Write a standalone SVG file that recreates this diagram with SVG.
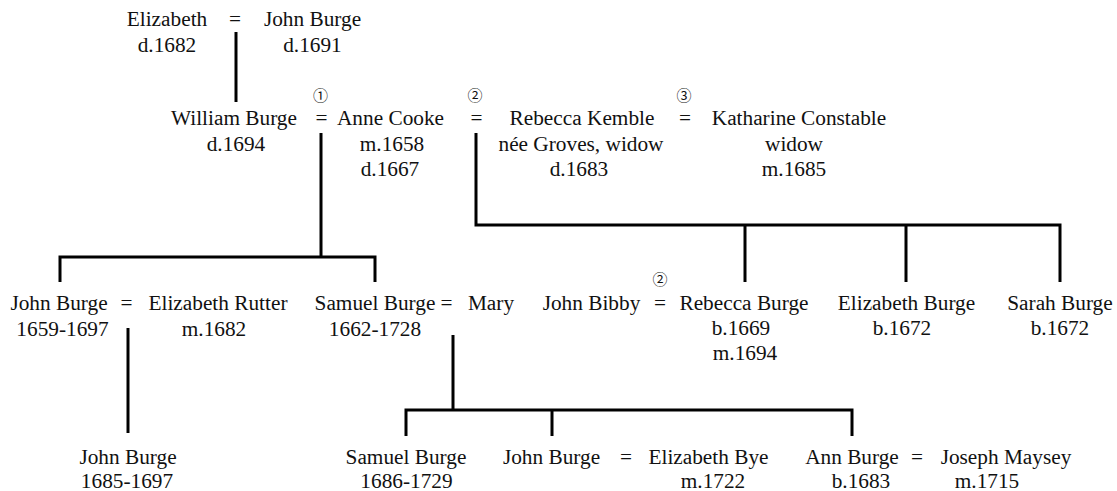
<svg xmlns="http://www.w3.org/2000/svg" width="1117" height="491" viewBox="0 0 1117 491">
<style>
text{font-family:'Liberation Serif','Times New Roman',Tinos,'DejaVu Serif',serif;font-size:21.3px;fill:#111;text-anchor:middle}
text.c{font-family:'Noto Sans CJK JP','DejaVu Sans',sans-serif;font-size:15px}
.ln{fill:none;stroke:#000;stroke-width:3;stroke-linejoin:miter;stroke-linecap:butt}
</style>
<rect width="1117" height="491" fill="#fff"/>
<g id="connectors">
<path class="ln" d="M236 32V102"/>
<path class="ln" d="M321 133V257M60 282V257H375V282"/>
<path class="ln" d="M476 133V225H1060V282M745 225V282M906 225V282"/>
<path class="ln" d="M128 328V433"/>
<path class="ln" d="M453 335V410M406 436V410H852V436M552 410V436"/>
</g>
<g font-family="Liberation Serif, Times New Roman, serif">
<g id="elizabeth"><text x="167" y="26">Elizabeth</text><text x="167" y="52">d.1682</text></g>
<g id="m-eliz-john"><text x="235" y="26">=</text></g>
<g id="john-burge-sr"><text x="312.5" y="26">John Burge</text><text x="312.5" y="52">d.1691</text></g>
<g id="william-burge"><text x="234" y="125">William Burge</text><text x="236" y="151">d.1694</text></g>
<g id="m1"><text class="c" x="320.5" y="101">①</text><text x="321.5" y="125">=</text></g>
<g id="anne-cooke"><text x="390.5" y="125">Anne Cooke</text><text x="392" y="151">m.1658</text><text x="390" y="176">d.1667</text></g>
<g id="m2"><text class="c" x="475" y="101">②</text><text x="476.5" y="125">=</text></g>
<g id="rebecca-kemble"><text x="582" y="125">Rebecca Kemble</text><text x="581" y="151">née Groves, widow</text><text x="579" y="176">d.1683</text></g>
<g id="m3"><text class="c" x="684" y="101">③</text><text x="685" y="125">=</text></g>
<g id="katharine-constable"><text x="799" y="125">Katharine Constable</text><text x="794" y="151">widow</text><text x="794" y="176">m.1685</text></g>
<g id="john-burge-1659"><text x="59" y="310">John Burge</text><text x="62.5" y="336">1659-1697</text></g>
<g id="m-john-eliz"><text x="126.5" y="310">=</text></g>
<g id="elizabeth-rutter"><text x="218" y="310">Elizabeth Rutter</text><text x="214" y="336">m.1682</text></g>
<g id="samuel-burge-1662"><text x="375" y="310">Samuel Burge</text><text x="375" y="336">1662-1728</text></g>
<g id="m-samuel-mary"><text x="446.5" y="310">=</text></g>
<g id="mary"><text x="491" y="310">Mary</text></g>
<g id="john-bibby"><text x="591.5" y="310">John Bibby</text></g>
<g id="m-bibby"><text class="c" x="660" y="285">②</text><text x="660" y="310">=</text></g>
<g id="rebecca-burge"><text x="744" y="310">Rebecca Burge</text><text x="741" y="335">b.1669</text><text x="745" y="360">m.1694</text></g>
<g id="elizabeth-burge"><text x="906.5" y="310">Elizabeth Burge</text><text x="902" y="335">b.1672</text></g>
<g id="sarah-burge"><text x="1060" y="310">Sarah Burge</text><text x="1060" y="335">b.1672</text></g>
<g id="john-burge-1685"><text x="128" y="464">John Burge</text><text x="127" y="488">1685-1697</text></g>
<g id="samuel-burge-1686"><text x="406" y="464">Samuel Burge</text><text x="406.5" y="488">1686-1729</text></g>
<g id="john-burge-m1722"><text x="551.5" y="464">John Burge</text></g>
<g id="m-john-bye"><text x="626" y="464">=</text></g>
<g id="elizabeth-bye"><text x="708.5" y="464">Elizabeth Bye</text><text x="713" y="488">m.1722</text></g>
<g id="ann-burge"><text x="852" y="464">Ann Burge</text><text x="861" y="488">b.1683</text></g>
<g id="m-ann-joseph"><text x="917" y="464">=</text></g>
<g id="joseph-maysey"><text x="1006" y="464">Joseph Maysey</text><text x="987" y="488">m.1715</text></g>
</g>
</svg>
